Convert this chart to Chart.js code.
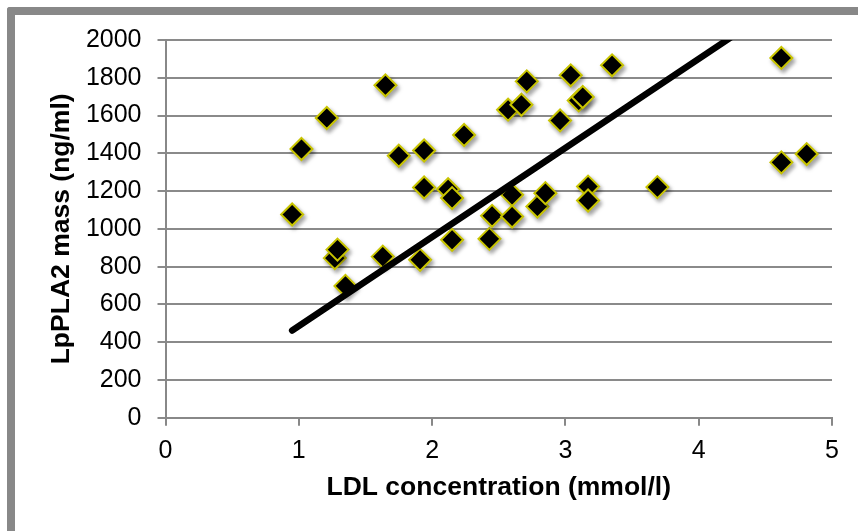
<!DOCTYPE html>
<html lang="en">
<head>
  <meta charset="UTF-8" />
  <title>LpPLA2 mass vs LDL concentration</title>
  <script src="https://cdn.jsdelivr.net/npm/chart.js"></script>
  <style>
    body { margin:0; background:#fff; }
    #wrap { position:relative; width:858px; height:531px; overflow:hidden; }
    #frame { position:absolute; left:7px; top:7px; width:900px; height:600px;
             border-left:8px solid #888; border-top:8px solid #888; border-top-left-radius:3px; }
    canvas { position:absolute; left:0; top:0; }
  </style>
</head>
<body>
  <div id="wrap">
    <div id="frame"></div>
    <canvas id="c" width="858" height="531"></canvas>
  </div>

  <script>
    // values
    const ldl  = [0.95,1.02,1.21,1.27,1.29,1.35,1.63,1.65,1.75,1.91,1.94,1.94,2.12,2.15,2.15,2.24,2.43,2.45,
                  2.57,2.60,2.60,2.67,2.71,2.79,2.85,2.96,3.04,3.10,3.13,3.17,3.17,3.35,3.69,4.62,4.62,4.81];
    const mass = [1076,1423,1587,845,890,698,853,1760,1387,836,1415,1219,1210,1163,942,1497,947,1069,
                  1631,1180,1065,1657,1781,1118,1189,1574,1813,1680,1698,1224,1150,1866,1221,1905,1352,1396];
    // linear trend line, end points
    const trendX = [0.95, 4.81];
    const trendY = [462, 2282];

    const xTicks = [0,1,2,3,4,5];
    const yTicks = [0,200,400,600,800,1000,1200,1400,1600,1800,2000];

    const font = 'Liberation Sans, Arial, sans-serif';

    // drop shadow under the diamonds
    const shadow = {
      id:'shadow',
      beforeDatasetDraw(chart, args){
        if(args.index !== 1) return;
        const ctx = chart.ctx;
        ctx.save();
        ctx.shadowColor = 'rgba(0,0,0,0.35)';
        ctx.shadowBlur = 4;
        ctx.shadowOffsetX = 2;
        ctx.shadowOffsetY = 3;
      },
      afterDatasetDraw(chart, args){
        if(args.index !== 1) return;
        chart.ctx.restore();
      }
    };

    new Chart(document.getElementById('c'), {
      type:'scatter',
      data:{
        datasets:[
          { // trend line on top
            type:'line',
            data: trendX.map((x,i)=>({x, y:trendY[i]})),
            borderColor:'#000', borderWidth:6.5, borderCapStyle:'round',
            pointRadius:0, fill:false, order:0
          },
          {
            data: ldl.map((x,i)=>({x, y:mass[i]})),
            pointStyle:'rectRot', pointRadius:11, pointHoverRadius:11,
            backgroundColor:'#000', borderColor:'#c8c400', borderWidth:2, order:1
          }
        ]
      },
      plugins:[shadow],
      options:{
        responsive:false, animation:false,
        layout:{ padding:{ left:0, right:26, top:40, bottom:0 } },
        plugins:{ legend:{display:false}, tooltip:{enabled:false} },
        scales:{
          x:{
            type:'linear', min:0, max:5,
            afterBuildTicks(s){ s.ticks = xTicks.map(v=>({value:v})); },
            afterFit(s){ s.height = 113.3; },
            grid:{ drawOnChartArea:false, drawTicks:true, tickLength:8, color:'#888', lineWidth:2 },
            border:{ color:'#888', width:2 },
            ticks:{ color:'#000', font:{family:font, size:25}, padding:10, callback:v=>String(v) },
            title:{ display:true, text:'LDL concentration (mmol/l)', color:'#000',
                    font:{family:font, size:26.5, weight:'bold'}, padding:{top:0, bottom:27} }
          },
          y:{
            type:'linear', min:0, max:2000,
            afterBuildTicks(s){ s.ticks = yTicks.map(v=>({value:v})); },
            afterFit(s){ s.width = 165.5; },
            grid:{ drawTicks:true, tickLength:8, color:'#8a8a8a', lineWidth:2 },
            border:{ color:'#888', width:2 },
            ticks:{ color:'#000', font:{family:font, size:25}, padding:16, callback:v=>String(v) },
            title:{ display:true, text:'LpPLA2 mass (ng/ml)', color:'#000',
                    font:{family:font, size:26.5, weight:'bold'}, padding:{top:46, bottom:0} }
          }
        }
      }
    });
  </script>
</body>
</html>
